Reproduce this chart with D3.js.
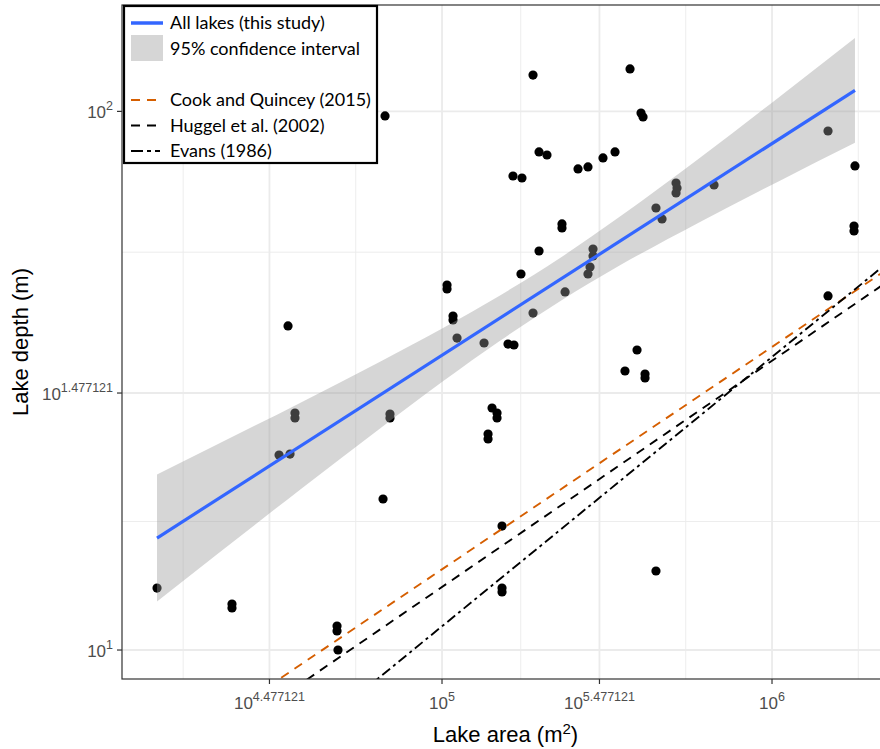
<!DOCTYPE html>
<html>
<head>
<meta charset="utf-8">
<script src="https://cdn.jsdelivr.net/npm/d3@7"></script>
<style>
  html, body { margin: 0; padding: 0; background: #fff; }
  svg { display: block; }
</style>
</head>
<body>
<svg id="chart" width="880" height="749"></svg>
<script>
// Lake area (m²) and mean depth (m) for each surveyed lake
const lakeArea = [
  13690, 23100, 23100, 32080, 34630, 35850, 35850, 34150, 48070, 48070,
  48400, 66270, 67200, 69570, 69570, 103560, 103560, 107980, 107980, 111050,
  134100, 137900, 137900, 141800, 146800, 146800, 152000, 152000, 152000, 158490,
  165200, 164100, 174700, 173500, 188700, 188700, 196800, 208000, 196800, 231000,
  231000, 236000, 258300, 276900, 286800, 286800, 280900, 276900, 307500, 334400,
  358500, 371300, 389900, 400900, 406600, 412300, 412300, 445000, 445000, 464200,
  511900, 515400, 511900, 667300, 1478000, 1478000, 1784000, 1772000, 1772000
];
const lakeDepth = [
  13.03, 12.17, 11.97, 23.01, 23.11, 27.54, 26.96, 39.96, 11.08, 10.85,
  10.0, 19.07, 98.06, 27.43, 26.96, 47.6, 46.8, 41.7, 41.0, 37.95,
  37.15, 25.18, 24.65, 28.14, 27.54, 26.96, 16.99, 13.03, 12.82, 36.99,
  36.84, 75.87, 75.21, 49.9, 42.23, 116.8, 84.1, 82.99, 55.06, 61.8,
  60.76, 46.21, 78.2, 78.86, 55.53, 53.9, 51.4, 49.9, 81.95, 84.1,
  32.96, 119.9, 36.06, 99.3, 97.63, 32.54, 31.99, 14.02, 66.17, 63.12,
  73.63, 72.07, 70.55, 73.0, 91.96, 45.43, 79.19, 61.27, 59.98
];

// Fitted power law for all lakes (end points of the fitted line)
const fitArea = [13690, 1784000];
const fitDepth = [16.14, 109.4];

// 95% confidence band around the fit
const bandArea  = [13690, 21250, 37130, 64900, 101400, 149900, 227900, 346200, 605100, 1057000, 1784000];
const bandLower = [12.30, 15.20, 19.85, 25.79, 31.65, 37.52, 44.42, 51.78, 62.35, 74.37, 87.44];
const bandUpper = [21.17, 24.22, 28.76, 34.30, 39.70, 45.54, 53.43, 63.78, 82.04, 106.6, 136.9];

// Published area–depth relations, depth = coef * area ^ exponent
const refNames = ["Cook and Quincey (2015)", "Huggel et al. (2002)", "Evans (1986)"];
const refCoef = [0.1217, 0.104, 0.035];
const refExp = [0.4129, 0.42, 0.5];
const refColor = ["#D55E00", "#000000", "#000000"];
const refDash = ["9,7", "9,7", "10,4,3,4"];

// Axis break exponents (base 10)
const xTickExp = ["4.477121", "5", "5.477121", "6"];
const yTickExp = ["1", "1.477121", "2"];

const svg = d3.select("#chart");
const panel = { left: 122, right: 889, top: 5, bottom: 679 };

const x = d3.scaleLog()
  .domain([Math.pow(10, 4.0303), Math.pow(10, 6.3545)])
  .range([panel.left, panel.right]);
const y = d3.scaleLog()
  .domain([Math.pow(10, 0.9462), Math.pow(10, 2.1975)])
  .range([panel.bottom, panel.top]);

const tickFont = "'Liberation Sans', Arial, sans-serif";

// minor breaks: midpoints between majors (in log space), extended one step each side
function minorBreaks(exps, domain) {
  const b = exps.map(Number);
  const step = b[1] - b[0];
  const ext = [b[0] - step, ...b, b[b.length - 1] + step];
  const lo = Math.log10(domain[0]), hi = Math.log10(domain[1]);
  const out = [];
  for (let i = 0; i < ext.length - 1; i++) {
    const m = (ext[i] + ext[i + 1]) / 2;
    if (m > lo && m < hi) out.push(Math.pow(10, m));
  }
  return out;
}

const defs = svg.append("defs");
defs.append("clipPath").attr("id", "panelClip")
  .append("rect")
  .attr("x", panel.left).attr("y", panel.top)
  .attr("width", panel.right - panel.left).attr("height", panel.bottom - panel.top);

// panel background
svg.append("rect")
  .attr("x", panel.left).attr("y", panel.top)
  .attr("width", panel.right - panel.left).attr("height", panel.bottom - panel.top)
  .attr("fill", "#ffffff");

const grid = svg.append("g").attr("clip-path", "url(#panelClip)");
const xMinor = minorBreaks(xTickExp, x.domain());
const yMinor = minorBreaks(yTickExp, y.domain());
const xMajor = xTickExp.map(e => Math.pow(10, +e));
const yMajor = yTickExp.map(e => Math.pow(10, +e));

grid.selectAll(".xminor").data(xMinor).join("line")
  .attr("x1", d => x(d)).attr("x2", d => x(d))
  .attr("y1", panel.top).attr("y2", panel.bottom)
  .attr("stroke", "#EBEBEB").attr("stroke-width", 0.9);
grid.selectAll(".yminor").data(yMinor).join("line")
  .attr("y1", d => y(d)).attr("y2", d => y(d))
  .attr("x1", panel.left).attr("x2", panel.right)
  .attr("stroke", "#EBEBEB").attr("stroke-width", 0.9);
grid.selectAll(".xmajor").data(xMajor).join("line")
  .attr("x1", d => x(d)).attr("x2", d => x(d))
  .attr("y1", panel.top).attr("y2", panel.bottom)
  .attr("stroke", "#EBEBEB").attr("stroke-width", 1.8);
grid.selectAll(".ymajor").data(yMajor).join("line")
  .attr("y1", d => y(d)).attr("y2", d => y(d))
  .attr("x1", panel.left).attr("x2", panel.right)
  .attr("stroke", "#EBEBEB").attr("stroke-width", 1.8);

const plot = svg.append("g").attr("clip-path", "url(#panelClip)");

// lakes
plot.selectAll("circle.lake").data(lakeArea.map((a, i) => [a, lakeDepth[i]]))
  .join("circle")
  .attr("class", "lake")
  .attr("cx", d => x(d[0])).attr("cy", d => y(d[1]))
  .attr("r", 4.6)
  .attr("fill", "#000000");

// confidence band (drawn over the points, semi-transparent)
const band = bandArea.map((a, i) => ({ a, lo: bandLower[i], hi: bandUpper[i] }));
plot.append("path").datum(band)
  .attr("d", d3.area()
    .x(d => x(d.a)).y0(d => y(d.lo)).y1(d => y(d.hi))
    .curve(d3.curveMonotoneX))
  .attr("fill", "#999999").attr("fill-opacity", 0.4);

// fitted line
plot.append("path").datum(fitArea.map((a, i) => [a, fitDepth[i]]))
  .attr("d", d3.line().x(d => x(d[0])).y(d => y(d[1])))
  .attr("fill", "none").attr("stroke", "#3366FF").attr("stroke-width", 3.2);

// published relations across the full area range
refNames.forEach((name, i) => {
  const ends = x.domain().map(a => [a, refCoef[i] * Math.pow(a, refExp[i])]);
  plot.append("path").datum(ends)
    .attr("d", d3.line().x(d => x(d[0])).y(d => y(d[1])))
    .attr("fill", "none")
    .attr("stroke", refColor[i])
    .attr("stroke-width", 1.9)
    .attr("stroke-dasharray", refDash[i]);
});

// panel border
svg.append("rect")
  .attr("x", panel.left).attr("y", panel.top)
  .attr("width", panel.right - panel.left).attr("height", panel.bottom - panel.top)
  .attr("fill", "none").attr("stroke", "#333333").attr("stroke-width", 1.2);

// axes
const xAxis = svg.append("g");
xTickExp.forEach(e => {
  const px = x(Math.pow(10, +e));
  xAxis.append("line")
    .attr("x1", px).attr("x2", px).attr("y1", panel.bottom).attr("y2", panel.bottom + 5)
    .attr("stroke", "#333333").attr("stroke-width", 1.2);
  const t = xAxis.append("text")
    .attr("x", px).attr("y", panel.bottom + 30)
    .attr("text-anchor", "middle")
    .attr("font-family", tickFont).attr("font-size", 17).attr("fill", "#4D4D4D");
  t.append("tspan").text("10");
  t.append("tspan").attr("dy", -8).attr("font-size", 12.5).text(e);
});

const yAxis = svg.append("g");
yTickExp.forEach(e => {
  const py = y(Math.pow(10, +e));
  yAxis.append("line")
    .attr("x1", panel.left - 5).attr("x2", panel.left).attr("y1", py).attr("y2", py)
    .attr("stroke", "#333333").attr("stroke-width", 1.2);
  const t = yAxis.append("text")
    .attr("x", panel.left - 9).attr("y", py + 7)
    .attr("text-anchor", "end")
    .attr("font-family", tickFont).attr("font-size", 17).attr("fill", "#4D4D4D");
  t.append("tspan").text("10");
  t.append("tspan").attr("dy", -8).attr("font-size", 12.5).text(e);
});

// axis titles
const xt = svg.append("text")
  .attr("x", (panel.left + panel.right) / 2).attr("y", 742)
  .attr("text-anchor", "middle")
  .attr("font-family", tickFont).attr("font-size", 22).attr("fill", "#000");
xt.append("tspan").text("Lake area (m");
xt.append("tspan").attr("dy", -8).attr("font-size", 15).text("2");
xt.append("tspan").attr("dy", 8).text(")");

svg.append("text")
  .attr("transform", `translate(28,${(panel.top + panel.bottom) / 2}) rotate(-90)`)
  .attr("text-anchor", "middle")
  .attr("font-family", tickFont).attr("font-size", 22).attr("fill", "#000")
  .text("Lake depth (m)");

// legend
const lg = svg.append("g");
const legendFont = "Lato, 'Open Sans', sans-serif";
lg.append("rect")
  .attr("x", 124).attr("y", 6).attr("width", 253).attr("height", 157)
  .attr("fill", "#fff").attr("stroke", "#000").attr("stroke-width", 2.2);

const keyX0 = 131, keyX1 = 163, textX = 170;
lg.append("line")
  .attr("x1", keyX0).attr("x2", keyX1).attr("y1", 23).attr("y2", 23)
  .attr("stroke", "#3366FF").attr("stroke-width", 3.5);
lg.append("text").attr("x", textX).attr("y", 29)
  .attr("font-family", legendFont).attr("font-size", 18).attr("fill", "#000")
  .text("All lakes (this study)");

lg.append("rect")
  .attr("x", keyX0).attr("y", 35).attr("width", keyX1 - keyX0).attr("height", 26)
  .attr("fill", "#D6D6D6");
lg.append("text").attr("x", textX).attr("y", 55)
  .attr("font-family", legendFont).attr("font-size", 18).attr("fill", "#000")
  .text("95% confidence interval");

const legendDash = ["9,7", "9,7", "12,4,4,4"];
refNames.forEach((name, i) => {
  const cy = 100 + i * 25.5;
  lg.append("line")
    .attr("x1", keyX0).attr("x2", i === 2 ? 160 : 157).attr("y1", cy).attr("y2", cy)
    .attr("stroke", refColor[i]).attr("stroke-width", 1.9)
    .attr("stroke-dasharray", legendDash[i]);
  lg.append("text").attr("x", textX).attr("y", cy + 6)
    .attr("font-family", legendFont).attr("font-size", 18).attr("fill", "#000")
    .text(name);
});
</script>
</body>
</html>
